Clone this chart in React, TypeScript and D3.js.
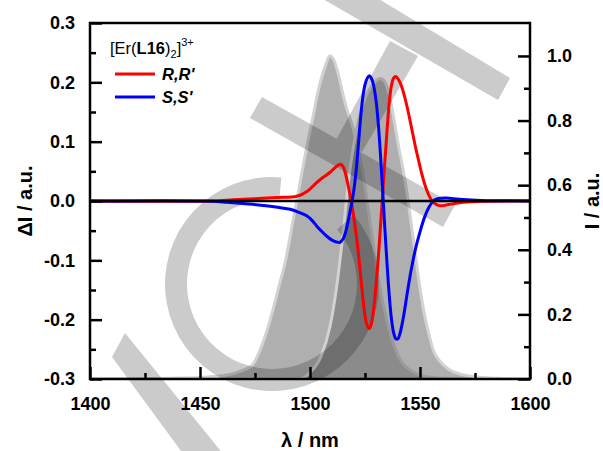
import { useEffect, useRef } from "react";
import * as d3 from "d3";

// absorption spectrum (right axis), two overlapping components
const areaALambda = [1400, 1420, 1440, 1450, 1460, 1466, 1470, 1474, 1477, 1480, 1483, 1486, 1489, 1492, 1495, 1498, 1501, 1504, 1507, 1509, 1511, 1513, 1515, 1517, 1519, 1521, 1524, 1527, 1530, 1533, 1537, 1541, 1546, 1552, 1560, 1570, 1600];
const areaAValues = [0, 0.001, 0.003, 0.005, 0.01, 0.018, 0.028, 0.045, 0.085, 0.14, 0.21, 0.29, 0.37, 0.48, 0.59, 0.7, 0.8, 0.9, 0.97, 1.0, 0.985, 0.94, 0.88, 0.83, 0.79, 0.74, 0.64, 0.5, 0.36, 0.24, 0.13, 0.06, 0.025, 0.008, 0.002, 0, 0];

const areaBLambda = [1400, 1495, 1500, 1505, 1509, 1512, 1515, 1518, 1520, 1522, 1524, 1526, 1529, 1532, 1534, 1536, 1538, 1540, 1542, 1544, 1546, 1548, 1550, 1552, 1554, 1556, 1559, 1563, 1568, 1575, 1585, 1595, 1600];
const areaBValues = [0, 0, 0.02, 0.07, 0.16, 0.28, 0.45, 0.64, 0.73, 0.8, 0.85, 0.885, 0.915, 0.93, 0.92, 0.88, 0.81, 0.73, 0.66, 0.58, 0.48, 0.38, 0.28, 0.2, 0.14, 0.09, 0.055, 0.03, 0.016, 0.007, 0.002, 0, 0];

// CD difference spectra (left axis)
const redLambda = [1400, 1455, 1465, 1475, 1485, 1494, 1499, 1503, 1506, 1509, 1511, 1513, 1514, 1515, 1516, 1517, 1518, 1519, 1520, 1521, 1522, 1523, 1524, 1525, 1526, 1527, 1528, 1529, 1530, 1531, 1532, 1533, 1534, 1535, 1536, 1537, 1538, 1539, 1540, 1541, 1542, 1543, 1544, 1545, 1546, 1547, 1548, 1549, 1550, 1551, 1552, 1553, 1554, 1555, 1556, 1558, 1560, 1563, 1568, 1576, 1600];
const redValues = [0, 0, 0.002, 0.004, 0.006, 0.008, 0.017, 0.031, 0.04, 0.048, 0.055, 0.061, 0.062, 0.058, 0.048, 0.032, 0.014, -0.006, -0.03, -0.057, -0.088, -0.125, -0.162, -0.193, -0.21, -0.215, -0.205, -0.18, -0.143, -0.098, -0.045, 0.01, 0.065, 0.118, 0.165, 0.194, 0.207, 0.21, 0.206, 0.199, 0.189, 0.176, 0.161, 0.144, 0.126, 0.108, 0.09, 0.074, 0.058, 0.043, 0.03, 0.019, 0.01, 0.003, -0.002, -0.007, -0.008, -0.006, -0.003, -0.001, 0];

const blueLambda = [1400, 1452, 1462, 1472, 1480, 1486, 1491, 1495, 1498.5, 1501, 1503, 1505, 1507.5, 1510, 1512, 1513.5, 1515, 1516, 1517, 1518, 1519, 1520, 1521, 1522, 1523, 1524, 1525, 1526, 1527, 1528, 1529, 1530, 1531, 1532, 1533, 1534, 1535, 1536, 1537, 1538, 1539, 1540, 1541, 1542, 1543, 1544, 1545, 1546, 1548, 1550, 1552, 1554, 1556, 1558, 1562, 1568, 1578, 1600];
const blueValues = [0, 0, -0.002, -0.005, -0.008, -0.011, -0.014, -0.019, -0.025, -0.033, -0.042, -0.05, -0.059, -0.066, -0.069, -0.07, -0.064, -0.055, -0.04, -0.022, -0.003, 0.02, 0.052, 0.095, 0.14, 0.175, 0.196, 0.207, 0.211, 0.206, 0.193, 0.17, 0.132, 0.08, 0.02, -0.045, -0.105, -0.158, -0.198, -0.222, -0.232, -0.232, -0.222, -0.205, -0.184, -0.16, -0.137, -0.116, -0.08, -0.052, -0.028, -0.011, 0.0, 0.004, 0.005, 0.003, 0.001, 0];

const leftTicks = [-0.3, -0.2, -0.1, 0.0, 0.1, 0.2, 0.3];
const leftMinor = [-0.25, -0.15, -0.05, 0.05, 0.15, 0.25];
const rightTicks = [0.0, 0.2, 0.4, 0.6, 0.8, 1.0];
const rightMinor = [0.1, 0.3, 0.5, 0.7, 0.9];
const xTicks = [1400, 1450, 1500, 1550, 1600];
const xMinor = [1425, 1475, 1525, 1575];

const legendNames = ["R,R'", "S,S'"];
const seriesColors = ["#ff0000", "#0000ff"];

// faint watermark behind the data
const watermark = [
  "M112,357 L125,333 L224,455 L184,455 Z",
  "M262,97 L250,118 L443,227 L455,205 Z",
  "M316,-5 L372,-5 L510,78 L498,100 Z",
  "M390,41 L418,56 L362,152 L336,140 Z",
];

const FONT = "'Liberation Sans', Arial, Helvetica, sans-serif";

export default function App() {
  const ref = useRef<SVGSVGElement>(null);

  useEffect(() => {
    const width = 603;
    const height = 451;
    const svg = d3.select(ref.current).attr("width", width).attr("height", height);
    svg.selectAll("*").remove();

    const x = d3.scaleLinear().domain([1400, 1600]).range([90, 530]);
    const yL = d3.scaleLinear().domain([-0.3, 0.3]).range([379, 23]);
    const yR = d3.scaleLinear().domain([0, 1.102]).range([379, 23]);

    const clipId = "plotclip";
    svg.append("clipPath").attr("id", clipId)
      .append("rect").attr("x", 90).attr("y", 23).attr("width", 440).attr("height", 356);

    // gray spectra
    const areas = [
      d3.zip(areaALambda, areaAValues),
      d3.zip(areaBLambda, areaBValues),
    ];
    const area = d3.area<number[]>()
      .x(d => x(d[0]))
      .y0(yR(0))
      .y1(d => yR(d[1]))
      .curve(d3.curveMonotoneX);
    const top = d3.line<number[]>()
      .x(d => x(d[0]))
      .y(d => yR(d[1]))
      .curve(d3.curveMonotoneX);
    const gArea = svg.append("g").attr("clip-path", `url(#${clipId})`);
    areas.forEach(pts => {
      gArea.append("path").attr("d", area(pts)).attr("fill", "rgb(110,110,110)").attr("fill-opacity", 0.55);
      gArea.append("path").attr("d", top(pts)).attr("fill", "none").attr("stroke", "#d2d2d2").attr("stroke-width", 3);
    });

    // watermark
    const wm = svg.append("g").attr("opacity", 0.2);
    watermark.forEach(p => wm.append("path").attr("d", p).attr("fill", "#000"));
    const ring = d3.arc()
      .innerRadius(85)
      .outerRadius(107)
      .startAngle((50 * Math.PI) / 180)
      .endAngle((365 * Math.PI) / 180);
    wm.append("path").attr("transform", "translate(272,284)").attr("d", ring({} as any) as string).attr("fill", "#000");

    // difference curves
    const curves = [d3.zip(redLambda, redValues), d3.zip(blueLambda, blueValues)];
    const line = d3.line<number[]>()
      .x(d => x(d[0]))
      .y(d => yL(d[1]))
      .curve(d3.curveCatmullRom.alpha(0.5));
    const gLines = svg.append("g").attr("clip-path", `url(#${clipId})`);
    curves.forEach((pts, i) => {
      gLines.append("path").attr("d", line(pts)).attr("fill", "none")
        .attr("stroke", seriesColors[i]).attr("stroke-width", 3).attr("stroke-linejoin", "round");
    });

    // zero line
    svg.append("line")
      .attr("x1", x(1400)).attr("x2", x(1600))
      .attr("y1", yL(0)).attr("y2", yL(0))
      .attr("stroke", "#000").attr("stroke-width", 2.5);

    // axes
    const styleAxis = (g: any) => {
      g.select(".domain").remove();
      g.selectAll("line").attr("stroke", "#000").attr("stroke-width", 2.5);
      g.selectAll("text").attr("font-family", FONT).attr("font-weight", "bold").attr("font-size", 18).attr("fill", "#000");
    };

    svg.append("g").attr("transform", `translate(${x(1400)},0)`)
      .call(d3.axisLeft(yL).tickValues(leftTicks).tickSize(-12).tickSizeOuter(0).tickPadding(15).tickFormat(d => (+d).toFixed(1)))
      .call(styleAxis);
    svg.append("g").attr("transform", `translate(${x(1400)},0)`)
      .call(d3.axisLeft(yL).tickValues(leftMinor).tickSize(-6).tickSizeOuter(0).tickFormat(() => ""))
      .call(styleAxis);

    svg.append("g").attr("transform", `translate(${x(1600)},0)`)
      .call(d3.axisRight(yR).tickValues(rightTicks).tickSize(-12).tickSizeOuter(0).tickPadding(17).tickFormat(d => (+d).toFixed(1)))
      .call(styleAxis);
    svg.append("g").attr("transform", `translate(${x(1600)},0)`)
      .call(d3.axisRight(yR).tickValues(rightMinor).tickSize(-6).tickSizeOuter(0).tickFormat(() => ""))
      .call(styleAxis);

    svg.append("g").attr("transform", `translate(0,${yL(-0.3)})`)
      .call(d3.axisBottom(x).tickValues(xTicks).tickSize(-12).tickSizeOuter(0).tickPadding(18).tickFormat(d => String(d)))
      .call(styleAxis);
    svg.append("g").attr("transform", `translate(0,${yL(-0.3)})`)
      .call(d3.axisBottom(x).tickValues(xMinor).tickSize(-6).tickSizeOuter(0).tickFormat(() => ""))
      .call(styleAxis);

    // frame
    svg.append("rect")
      .attr("x", x(1400)).attr("y", yL(0.3))
      .attr("width", x(1600) - x(1400)).attr("height", yL(-0.3) - yL(0.3))
      .attr("fill", "none").attr("stroke", "#000").attr("stroke-width", 2.5);

    // axis titles
    svg.append("text")
      .attr("transform", `translate(32,${(yL(0.3) + yL(-0.3)) / 2}) rotate(-90)`)
      .attr("text-anchor", "middle").attr("font-family", FONT).attr("font-weight", "bold").attr("font-size", 20)
      .text("ΔI / a.u.");
    svg.append("text")
      .attr("transform", `translate(599,${(yL(0.3) + yL(-0.3)) / 2}) rotate(-90)`)
      .attr("text-anchor", "middle").attr("font-family", FONT).attr("font-weight", "bold").attr("font-size", 20)
      .text("I / a.u.");
    svg.append("text")
      .attr("x", (x(1400) + x(1600)) / 2).attr("y", 447)
      .attr("text-anchor", "middle").attr("font-family", FONT).attr("font-weight", "bold").attr("font-size", 20)
      .text("λ / nm");

    // legend
    const leg = svg.append("text").attr("x", 110).attr("y", 54)
      .attr("font-family", FONT).attr("font-size", 16.5).attr("fill", "#000");
    leg.append("tspan").text("[Er(");
    leg.append("tspan").attr("font-weight", "bold").text("L16");
    leg.append("tspan").text(")");
    leg.append("tspan").attr("font-size", 11).attr("dy", 4).text("2");
    leg.append("tspan").attr("dy", -4).text("]");
    leg.append("tspan").attr("font-size", 11).attr("dy", -8).text("3+");

    legendNames.forEach((name, i) => {
      const yy = 74 + i * 23;
      svg.append("line").attr("x1", 115).attr("x2", 155).attr("y1", yy).attr("y2", yy)
        .attr("stroke", seriesColors[i]).attr("stroke-width", 3);
      svg.append("text").attr("x", 162).attr("y", yy + 6)
        .attr("font-family", FONT).attr("font-weight", "bold").attr("font-style", "italic").attr("font-size", 16.5)
        .text(name);
    });
  }, []);

  return <svg ref={ref} style={{ position: "absolute", left: 0, top: 0, display: "block" }} />;
}
